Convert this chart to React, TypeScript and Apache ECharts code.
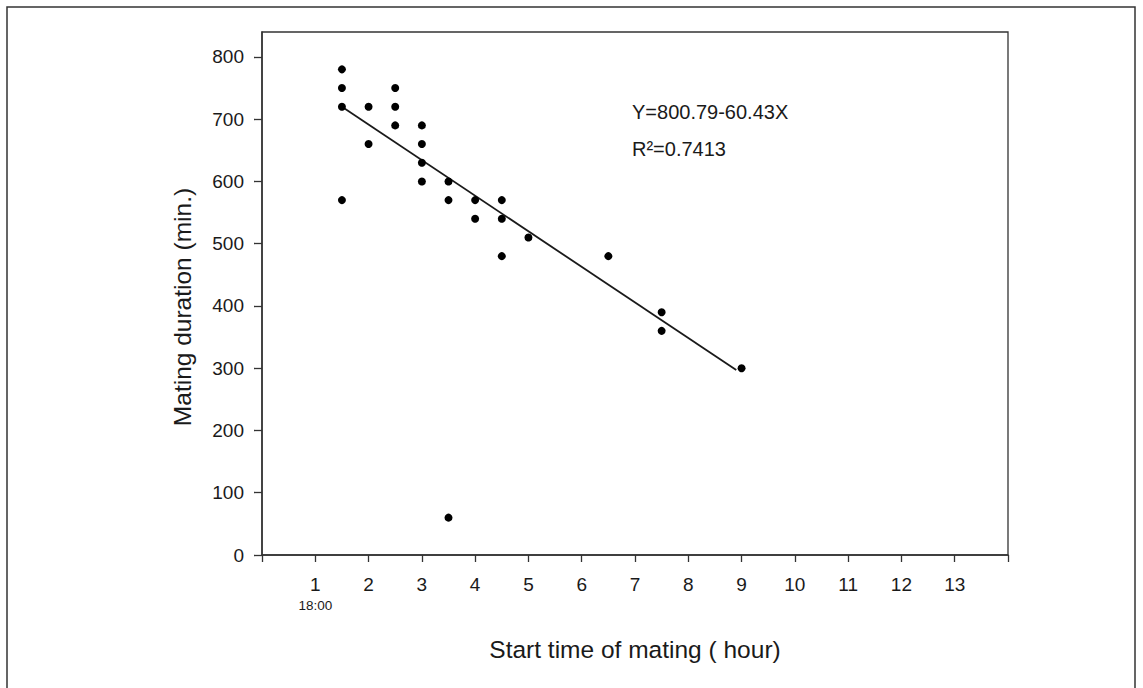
import React, { useEffect, useRef } from "react";
import * as echarts from "echarts";

// Data
const startTime = [1.5, 1.5, 1.5, 1.5, 2, 2, 2.5, 2.5, 2.5, 3, 3, 3, 3, 3.5, 3.5, 3.5, 4, 4, 4.5, 4.5, 4.5, 5, 6.5, 7.5, 7.5, 9];
const duration = [780, 750, 720, 570, 720, 660, 750, 720, 690, 690, 660, 630, 600, 600, 570, 60, 570, 540, 570, 540, 480, 510, 480, 390, 360, 300];
const fitX = [1.5, 8.9];
const fitY = [720, 297];

const xTicks = [0, 1, 2, 3, 4, 5, 6, 7, 8, 9, 10, 11, 12, 13, 14];
const xLabels = [1, 2, 3, 4, 5, 6, 7, 8, 9, 10, 11, 12, 13];
const yTicks = [0, 100, 200, 300, 400, 500, 600, 700, 800];
const equationText = "Y=800.79-60.43X";
const r2Text = "R²=0.7413";
const xTitle = "Start time of mating ( hour)";
const yTitle = "Mating duration (min.)";
const firstLabelSub = "18:00";

const FONT = "'Liberation Sans', Arial, sans-serif";
const INK = "#1a1a1a";

export default function App() {
  const ref = useRef<HTMLDivElement>(null);
  useEffect(() => {
    if (!ref.current) return;
    const chart = echarts.init(ref.current, undefined, { renderer: "svg" });
    const points = startTime.map((x, i) => [x, duration[i]]);
    const line = fitX.map((x, i) => [x, fitY[i]]);
    chart.setOption({
      animation: false,
      backgroundColor: "#fff",
      textStyle: { fontFamily: FONT, color: INK },
      grid: {
        left: 262,
        right: 135,
        top: 32,
        bottom: 133,
        show: true,
        borderColor: "#333",
        borderWidth: 1.3,
      },
      xAxis: {
        type: "value",
        min: 0,
        max: 14,
        interval: 1,
        splitLine: { show: false },
        axisLine: { show: true, lineStyle: { color: "#333", width: 1.5 } },
        axisTick: { show: true, customValues: xTicks, length: 7, lineStyle: { color: "#333", width: 1.3 } },
        axisLabel: {
          customValues: xLabels,
          margin: 19,
          fontFamily: FONT,
          color: INK,
          fontSize: 19,
          formatter: (v: number) => (v === 1 ? `{n|${v}}\n{s|${firstLabelSub}}` : `{n|${v}}`),
          rich: {
            n: { fontFamily: FONT, fontSize: 19, color: INK, lineHeight: 21 },
            s: { fontFamily: FONT, fontSize: 13.5, color: INK, lineHeight: 20 },
          },
        },
        name: xTitle,
        nameLocation: "middle",
        nameGap: 82,
        nameTextStyle: { fontFamily: FONT, fontSize: 24.5, color: INK },
      },
      yAxis: {
        type: "value",
        min: 0,
        max: 840,
        splitLine: { show: false },
        axisLine: { show: true, lineStyle: { color: "#333", width: 1.5 } },
        axisTick: { show: true, customValues: yTicks, length: 8, lineStyle: { color: "#333", width: 1.3 } },
        axisLabel: {
          customValues: yTicks,
          margin: 18,
          fontFamily: FONT,
          fontSize: 19,
          color: INK,
        },
      },
      graphic: [
        {
          type: "rect",
          shape: { x: 7, y: 7, width: 1128, height: 700 },
          style: { fill: "none", stroke: "#333", lineWidth: 1.5 },
          silent: true,
        },
        {
          type: "text",
          x: 182,
          y: 307,
          rotation: Math.PI / 2,
          style: {
            text: yTitle,
            fontFamily: FONT,
            fontSize: 24.5,
            fill: INK,
            align: "center",
            verticalAlign: "middle",
          },
        },
        {
          type: "text",
          x: 632,
          y: 112,
          style: { text: equationText, fontFamily: FONT, fontSize: 20, fill: INK, align: "left", verticalAlign: "middle" },
        },
        {
          type: "text",
          x: 632,
          y: 149,
          style: { text: r2Text, fontFamily: FONT, fontSize: 20, fill: INK, align: "left", verticalAlign: "middle" },
        },
      ],
      series: [
        {
          type: "line",
          data: line,
          showSymbol: false,
          symbol: "none",
          lineStyle: { color: "#1a1a1a", width: 1.8 },
          z: 2,
        },
        {
          type: "scatter",
          data: points,
          symbol: "circle",
          symbolSize: 8,
          itemStyle: { color: "#000", opacity: 1 },
          z: 3,
        },
      ],
    });
    return () => chart.dispose();
  }, []);
  return (
    <div
      ref={ref}
      style={{ position: "fixed", left: 0, top: 0, width: 1143, height: 688, background: "#fff" }}
    />
  );
}
